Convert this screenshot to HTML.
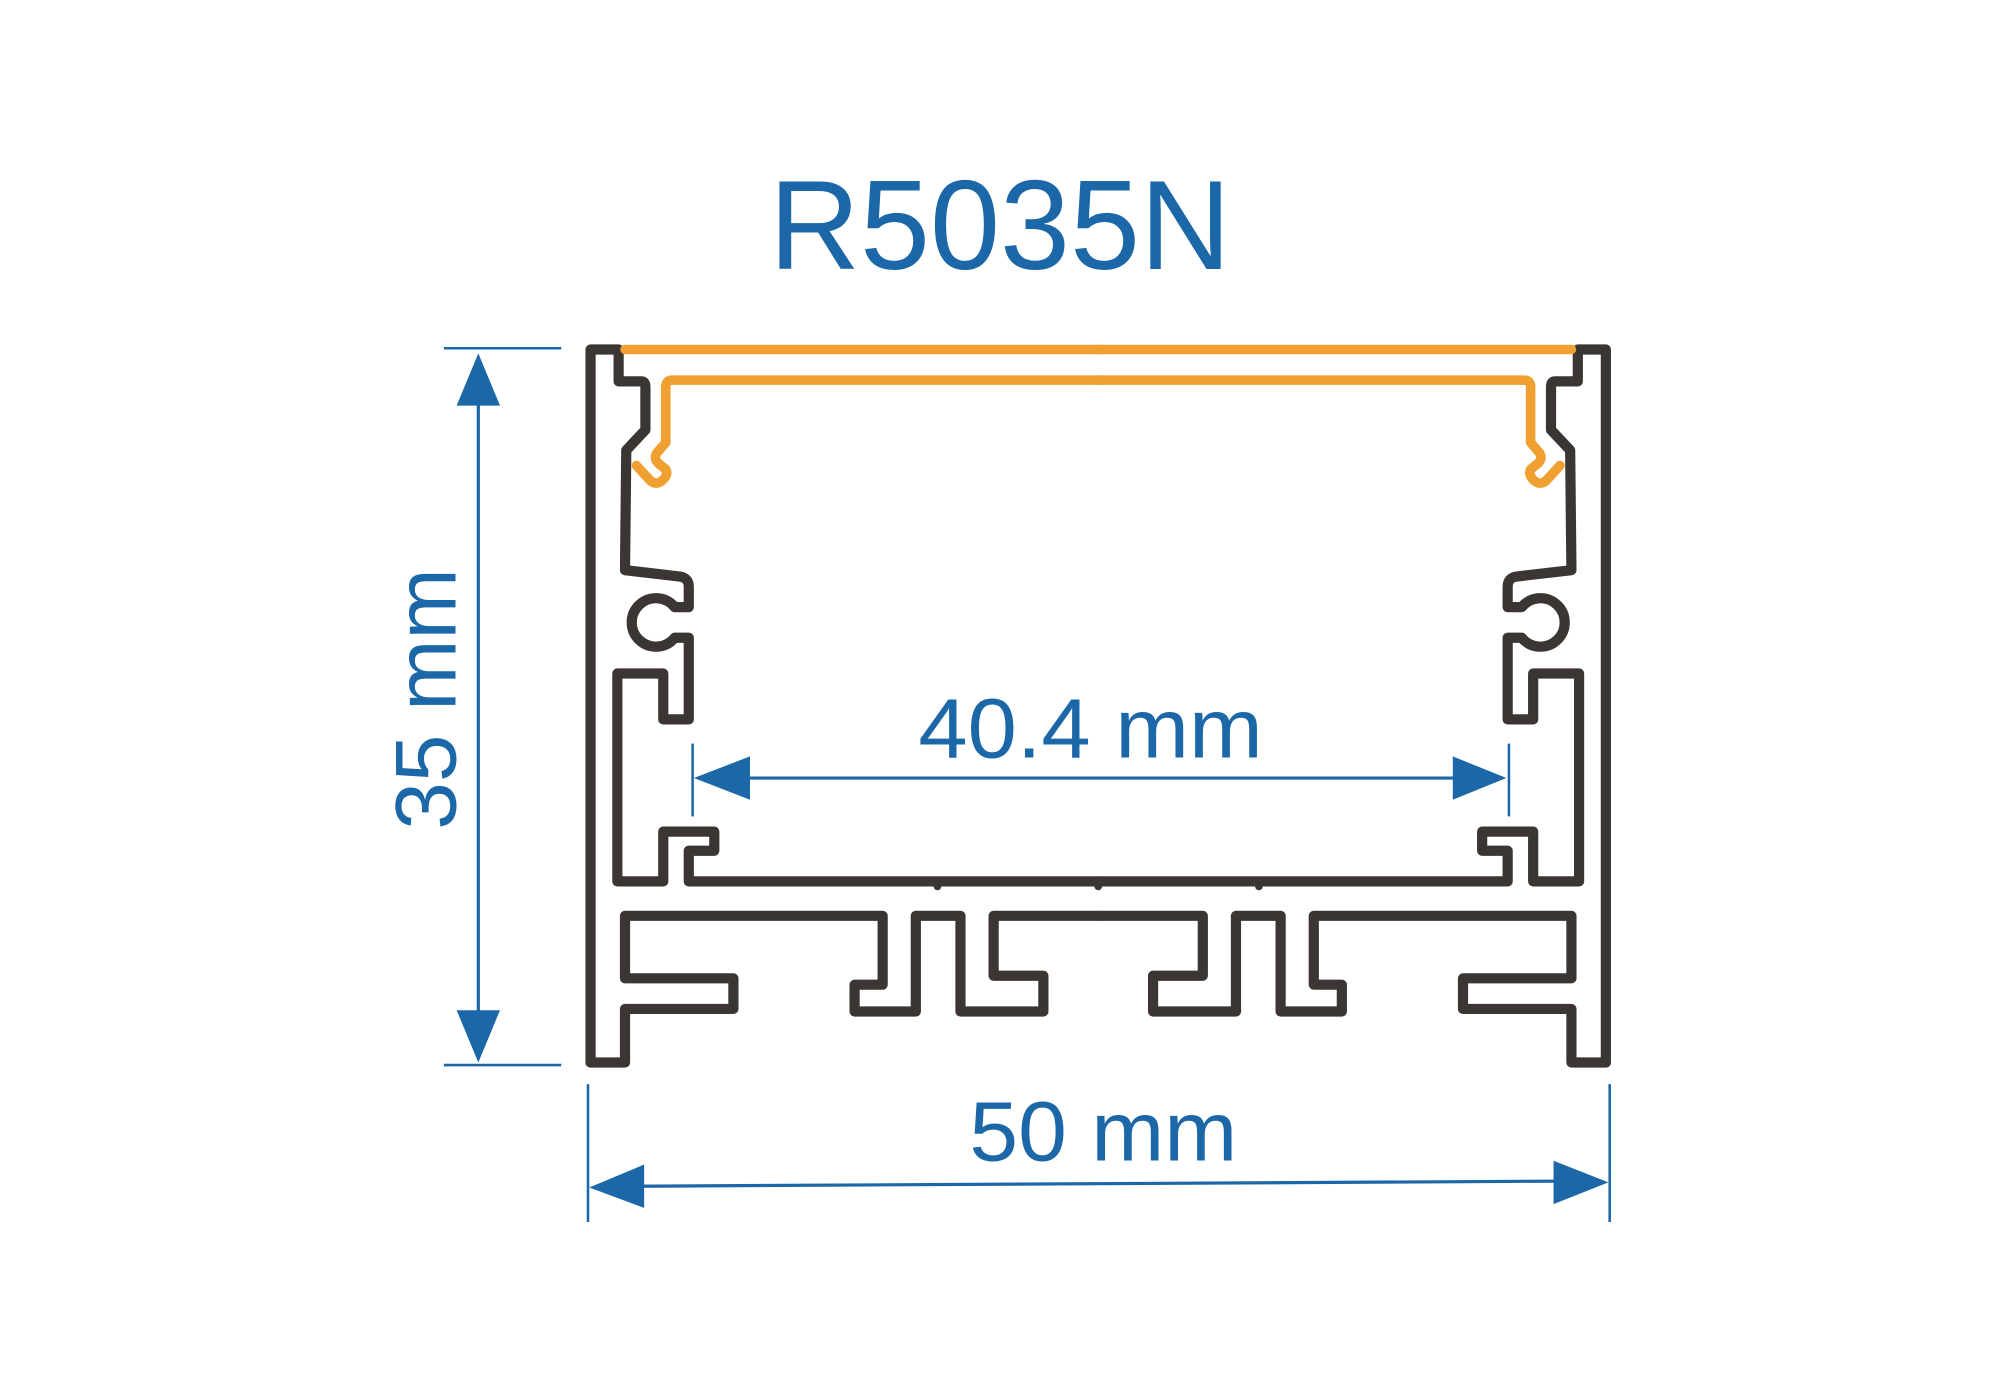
<!DOCTYPE html>
<html><head><meta charset="utf-8"><style>
html,body{margin:0;padding:0;background:#fff;}
svg{display:block;}
</style></head><body>
<svg width="2000" height="1400" viewBox="0 0 1568 1097.6" xmlns="http://www.w3.org/2000/svg">
<rect width="1568" height="1098" fill="#fff"/>
<defs>
<g id="half" fill="none" stroke-linejoin="round" stroke-linecap="round">
  <path stroke="#3b3633" stroke-width="8" d="M463,833 L463,274 L485,274 L485,299 L503,299 Q506,299 506,303 L506,337 L491,353 L490,447 L533,452 Q540,453 540,460 L540,476 L529,476 A19,19 0 1 0 529,500 L540,500 L540,564 L520,564 L520,528 L484,528 L484,691 L520,691 L520,652 L560,652 L560,667 L540,667 L540,691 L861,691"/>
  <path stroke="#3b3633" stroke-width="8" d="M463,833 L490,833 L490,791 L575,791 L575,767 L490,767 L490,718 L692,718 L692,772 L670,772 L670,793 L718,793 L718,718 L753,718 L753,793 L818,793 L818,765 L779,765 L779,718 L861,718"/>
  <circle cx="735" cy="695" r="3" fill="#3b3633" stroke="none"/>
  <path stroke="#f0a030" stroke-width="7.5" d="M490,274 L862,274"/>
  <path stroke="#f0a030" stroke-width="7.5" d="M862,298 L527,298 Q522,298 522,303 L522,347 L515,355 Q512,360 517,364 L522,368 Q524,372 520,376 Q515,381 510,377 L499,365"/>
</g>
</defs>
<use href="#half"/>
<use href="#half" transform="translate(1722,0) scale(-1,1)"/>
<circle cx="861" cy="695" r="3" fill="#3b3633"/>

<g fill="#1b67a8" stroke="#1b67a8">
  <!-- title -->
  <text x="784" y="211" stroke="none" font-family="Liberation Sans, sans-serif" font-size="100" text-anchor="middle" textLength="362" lengthAdjust="spacingAndGlyphs">R5035N</text>
  <!-- vertical dim -->
  <line x1="348" y1="273" x2="440" y2="273" stroke-width="2"/>
  <line x1="348" y1="835" x2="440" y2="835" stroke-width="2"/>
  <line x1="375" y1="310" x2="375" y2="800" stroke-width="2.5"/>
  <polygon points="375,277 358,318 392,318" stroke="none"/>
  <polygon points="375,833 358,792 392,792" stroke="none"/>
  <text transform="translate(357,548) rotate(-90)" stroke="none" font-family="Liberation Sans, sans-serif" font-size="68" text-anchor="middle" textLength="205" lengthAdjust="spacingAndGlyphs">35 mm</text>
  <!-- 40.4 dim -->
  <line x1="543" y1="583" x2="543" y2="640" stroke-width="2"/>
  <line x1="1183" y1="583" x2="1183" y2="640" stroke-width="2"/>
  <line x1="580" y1="610" x2="1148" y2="610" stroke-width="2.5"/>
  <polygon points="544,610 588,593 588,627" stroke="none"/>
  <polygon points="1181,610 1139,593 1139,627" stroke="none"/>
  <text x="855" y="594" stroke="none" font-family="Liberation Sans, sans-serif" font-size="66" text-anchor="middle" textLength="270" lengthAdjust="spacingAndGlyphs">40.4 mm</text>
  <!-- 50 dim -->
  <line x1="461" y1="850" x2="461" y2="958" stroke-width="2"/>
  <line x1="1262" y1="850" x2="1262" y2="958" stroke-width="2"/>
  <line x1="498" y1="930" x2="1225" y2="926" stroke-width="2.5"/>
  <polygon points="462,931 505,913 505,947" stroke="none"/>
  <polygon points="1261,927 1218,910 1218,944" stroke="none"/>
  <text x="865" y="910" stroke="none" font-family="Liberation Sans, sans-serif" font-size="66" text-anchor="middle" textLength="210" lengthAdjust="spacingAndGlyphs">50 mm</text>
</g>
</svg>
</body></html>
